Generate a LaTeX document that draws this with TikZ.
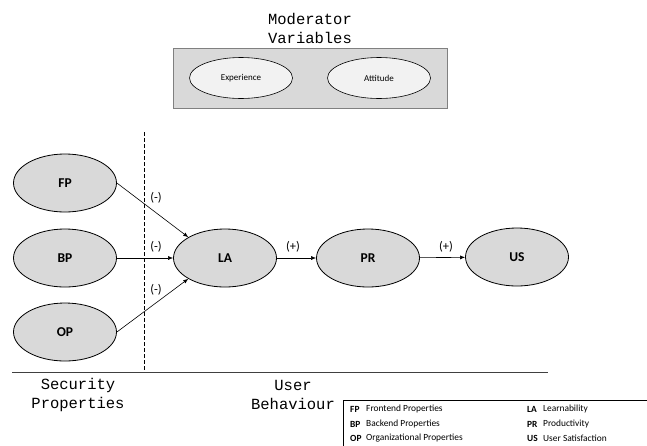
\documentclass[tikz,border=0pt]{standalone}
\usepackage{fontspec}
\setmainfont{Carlito}
\newfontfamily\courfont{Liberation Mono}
\usetikzlibrary{shapes.geometric,arrows.meta}
\definecolor{cellgray}{HTML}{D9D9D9}
\definecolor{palegray}{HTML}{F2F2F2}
\definecolor{framegray}{HTML}{808080}

\tikzset{
  construct/.style={ellipse,draw,line width=0.8pt,fill=cellgray,minimum width=103pt,
    minimum height=58pt,inner sep=0pt,font=\fontsize{13.5}{16}\selectfont\bfseries},
  modvar/.style={ellipse,draw,line width=0.6pt,fill=palegray,minimum width=103pt,
    minimum height=41pt,inner sep=0pt,font=\fontsize{9}{11}\selectfont},
  sign/.style={inner sep=0pt,font=\fontsize{12.5}{15}\selectfont},
  region/.style={inner sep=0pt,align=center,font=\courfont\fontsize{15.5}{19}\selectfont},
  link/.style={-{Latex[length=5pt,width=4pt]},line width=0.6pt},
  keytext/.style={anchor=west,inner sep=0pt,font=\fontsize{9.4}{11}\selectfont}
}

\begin{document}
\begin{tikzpicture}[x=1pt,y=-1pt]
  \useasboundingbox (0,0) rectangle (647,445);

  % moderator variables
  \node[region] (modtitle) at (310,28.5) {Moderator\\Variables};
  \draw[framegray,fill=cellgray,line width=0.6pt] (173,48) rectangle (447,108);
  \node[modvar] (exp) at (241,78) {Experience};
  \node[modvar] (att) at (379,78) {Attitude};

  % constructs
  \node[construct] (fp) at (65,183) {FP};
  \node[construct] (bp) at (65,258) {BP};
  \node[construct] (op) at (65,332) {OP};
  \node[construct] (la) at (225,258) {LA};
  \node[construct] (pr) at (368,258) {PR};
  \node[construct] (us) at (517,257) {US};

  \draw[link] (fp.east) -- (la.north west);
  \draw[link] (bp.east) -- (la.west);
  \draw[link] (op.east) -- (la.south west);
  \draw[link] (la) -- (pr);
  \draw[link] (pr) -- (us);

  \node[sign] (s1) at (156,198) {(-)};
  \node[sign] (s2) at (156,247) {(-)};
  \node[sign] (s3) at (156,290) {(-)};
  \node[sign] (s4) at (293,247) {(+)};
  \node[sign] (s5) at (446,247) {(+)};

  % split between the two sides
  \coordinate (cuttop) at (144,132);
  \coordinate (cutbot) at (144,372);
  \coordinate (baseL) at (12,372);
  \coordinate (baseR) at (548,372);
  \draw[dash pattern=on 4pt off 2pt,line width=0.6pt] (cuttop) -- (cutbot);
  \draw[line width=0.9pt,black!75] (baseL) -- (baseR);
  \node[region] (secprop) at (78,394.5) {Security\\Properties};
  \node[region] (userbeh) at (293,394.5) {User\\Behaviour};

  % legend
  \draw[line width=0.5pt] (343,400) rectangle (660,460);
  \node[keytext] (k1) at (350,409) {\textbf{FP}};
  \node[keytext] (k2) at (350,424) {\textbf{BP}};
  \node[keytext] (k3) at (350,438) {\textbf{OP}};
  \node[keytext] (t1) at (366,409) {Frontend Properties};
  \node[keytext] (t2) at (366,424) {Backend Properties};
  \node[keytext] (t3) at (366,438) {Organizational Properties};
  \node[keytext] (k4) at (527,409) {\textbf{LA}};
  \node[keytext] (k5) at (527,424) {\textbf{PR}};
  \node[keytext] (k6) at (527,438) {\textbf{US}};
  \node[keytext] (t4) at (543,409) {Learnability};
  \node[keytext] (t5) at (543,424) {Productivity};
  \node[keytext] (t6) at (543,438) {User Satisfaction};
\end{tikzpicture}
\end{document}
